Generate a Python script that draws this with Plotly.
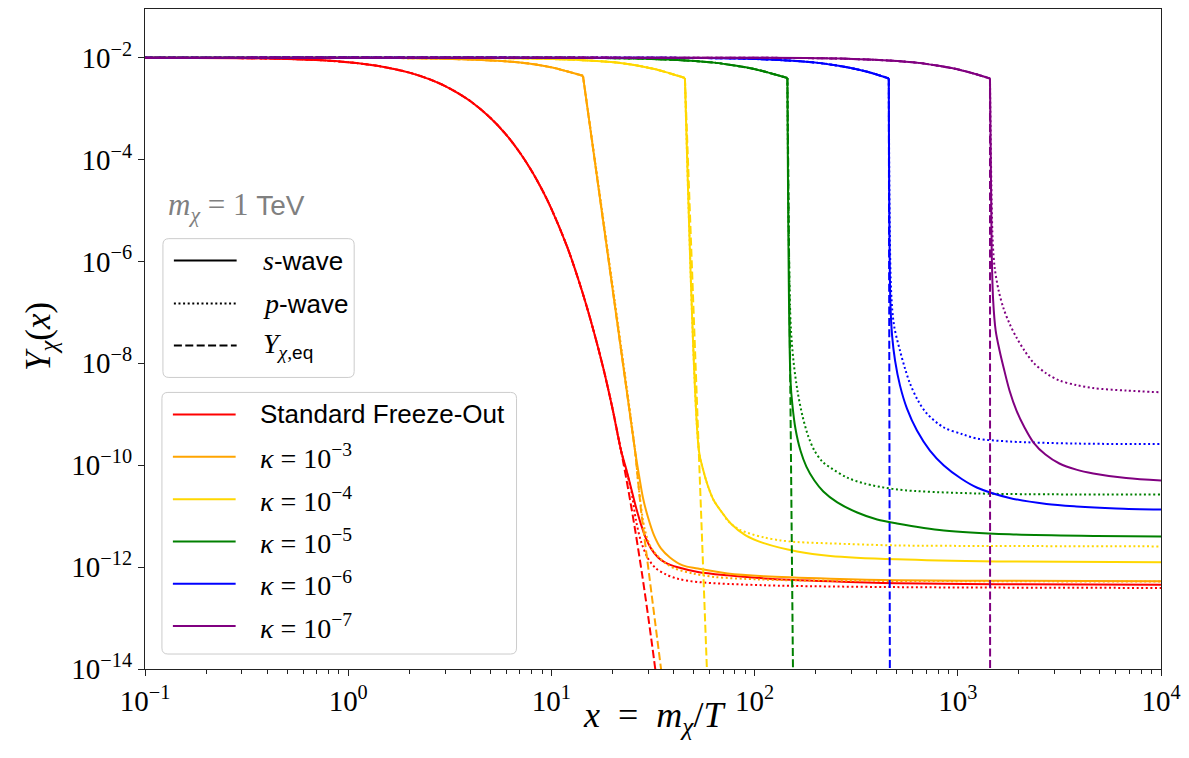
import plotly.graph_objects as go

# ------------------------------------------------------------------
# Abundance Y_chi(x) for a 1 TeV particle, x = m_chi / T
# ------------------------------------------------------------------

# Standard freeze-out: part shared by all three curves (tracks equilibrium)
std_common_x = [0.1, 0.3, 0.5, 0.75, 1, 1.25, 1.5, 2, 2.5, 3, 3.5, 4, 5, 6, 7, 8, 9, 10, 12,
                14, 16, 18, 20, 22]
std_common_y = [9.98e-3, 9.78e-3, 9.44e-3, 8.85e-3, 8.12e-3, 7.35e-3, 6.57e-3, 5.08e-3,
                3.8e-3, 2.77e-3, 1.97e-3, 1.39e-3, 6.64e-4, 3.05e-4, 1.36e-4, 5.93e-5,
                2.55e-5, 1.08e-5, 1.86e-6, 3.0e-7, 4.9e-8, 8.07e-9, 1.27e-9, 1.96e-10]
std_eq_x = [24, 26, 28, 30, 32, 33]
std_eq_y = [3.00e-11, 4.56e-12, 6.86e-13, 1.02e-13, 1.52e-14, 5.85e-15]
std_s_x = [23.3, 24.7, 26.1, 27.6, 29.2, 30.9, 33.5, 36.2, 41.9, 52.6, 73.7, 112, 236, 502,
           1553, 10000]
std_s_y = [8.6e-11, 3.5e-11, 1.48e-11, 6.9e-12, 3.65e-12, 2.33e-12, 1.55e-12, 1.24e-12,
           9.9e-13, 8.05e-13, 6.9e-13, 6.0e-13, 5.25e-13, 4.8e-13, 4.6e-13, 4.5e-13]
std_p_x = [23.3, 24.7, 26.1, 27.6, 29.9, 32.7, 36.6, 41.9, 52.6, 112, 502, 10000]
std_p_y = [8.2e-11, 3.2e-11, 8.2e-12, 3.2e-12, 1.48e-12, 9.4e-13, 7.2e-13, 5.9e-13, 5.1e-13,
           4.4e-13, 4.05e-13, 3.9e-13]

# kappa = 1e-3
k3_plateau_x = [0.1, 0.90, 1.80, 2.85, 4.52, 6.39, 8.04, 10.1, 11.9, 14.3]
k3_plateau_y = [1.0e-2, 9.95e-3, 9.8e-3, 9.55e-3, 9.0e-3, 8.3e-3, 7.5e-3, 6.4e-3, 5.4e-3, 4.4e-3]
k3_s_x = [25.8, 27.0, 28.2, 29.9, 32.0, 34.6, 38.3, 44.3, 52.6, 73.7, 112, 236, 502, 1553, 10000]
k3_s_y = [1.94e-10, 6.3e-11, 2.33e-11, 9.4e-12, 4.2e-12, 2.33e-12, 1.55e-12, 1.08e-12, 9.4e-13,
          7.5e-13, 6.6e-13, 5.9e-13, 5.5e-13, 5.4e-13, 5.25e-13]
k3_p_x = [25.8, 27.0, 28.8, 30.9, 33.5, 36.6, 40.5, 49.7, 63.7, 103, 162, 502, 10000]
k3_p_y = [1.94e-10, 3.2e-11, 5.5e-12, 2.43e-12, 1.62e-12, 1.18e-12, 9.4e-13, 7.5e-13, 6.4e-13,
          5.75e-13, 5.5e-13, 5.35e-13, 5.2e-13]
k3_eq_x = [25.8, 27.6, 34.6, 36.2]
k3_eq_y = [1.94e-10, 1.3e-11, 9.4e-15, 2.5e-15]

# kappa = 1e-4
k4_plateau_x = [0.1, 2.86, 5.72, 9.06, 14.3, 20.3, 25.5, 32.1, 37.8, 45.4]
k4_plateau_y = [1.0e-2, 9.95e-3, 9.8e-3, 9.5e-3, 8.9e-3, 8.1e-3, 7.2e-3, 6.0e-3, 5.0e-3, 4.0e-3]
k4_s_x = [53.2, 55.6, 58.8, 63.0, 69.7, 76.3, 90.3, 112, 162, 236, 502, 1553, 10000]
k4_s_y = [1.94e-10, 8.6e-11, 4.0e-11, 2.03e-11, 1.13e-11, 7.2e-12, 4.2e-12, 2.92e-12, 2.03e-12,
          1.66e-12, 1.42e-12, 1.29e-12, 1.24e-12]
k4_p_x = [53.2, 55.6, 58.8, 63.0, 69.7, 73.7, 82.5, 92.4, 112, 134, 162, 236, 502, 1553, 10000]
k4_p_y = [1.94e-10, 8.6e-11, 4.0e-11, 2.03e-11, 1.13e-11, 8.2e-12, 5.7e-12, 4.7e-12, 3.8e-12,
          3.34e-12, 3.1e-12, 2.92e-12, 2.66e-12, 2.6e-12, 2.55e-12]
k4_eq_x = [53.2, 58.3, 59.5]
k4_eq_y = [1.94e-10, 1.1e-14, 1.0e-15]

# kappa = 1e-5
k5_plateau_x = [0.1, 9.15, 18.3, 28.9, 45.8, 64.8, 81.5, 103, 121, 145]
k5_plateau_y = [1.0e-2, 9.95e-3, 9.8e-3, 9.5e-3, 8.8e-3, 7.9e-3, 6.9e-3, 5.8e-3, 4.9e-3, 4.0e-3]
k5_s_x = [150.2, 153.6, 158.9, 168.1, 179.8, 196.9, 217.9, 255.3, 319.8, 400.9, 502, 853.9,
          1798, 4802, 10000]
k5_s_y = [4.6e-9, 1.48e-9, 5.2e-10, 1.94e-10, 9.4e-11, 5.0e-11, 3.05e-11, 1.86e-11, 1.18e-11,
          8.6e-12, 7.2e-12, 5.25e-12, 4.4e-12, 4.1e-12, 4.0e-12]
k5_p_x = [150.2, 155.3, 162.5, 171.9, 183.9, 196.9, 215.4, 235.8, 285.7, 346.1, 502, 1239, 10000]
k5_p_y = [6.9e-8, 1.13e-8, 2.9e-9, 9.4e-10, 3.65e-10, 1.94e-10, 1.18e-10, 9.0e-11, 5.7e-11,
          4.4e-11, 3.34e-11, 2.79e-11, 2.67e-11]
k5_eq_x = [150.7, 154.8, 155.3]
k5_eq_y = [1.94e-10, 1.0e-14, 1.0e-15]

# kappa = 1e-6
k6_plateau_x = [0.1, 29.1, 58.1, 92.0, 146, 206, 259, 326, 384, 457.5]
k6_plateau_y = [1.0e-2, 9.95e-3, 9.8e-3, 9.5e-3, 8.8e-3, 7.9e-3, 6.9e-3, 5.8e-3, 4.9e-3, 3.9e-3]
k6_s_x = [465.6, 474.9, 491.2, 519.6, 562.3, 629.5, 729.1, 853.9, 1045.7, 1239, 1798, 2731,
          3831, 6017, 10000]
k6_s_y = [1.7e-7, 3.5e-8, 1.13e-8, 3.65e-9, 1.29e-9, 4.8e-10, 1.94e-10, 9.9e-11, 5.36e-11,
          3.66e-11, 2.28e-11, 1.73e-11, 1.55e-11, 1.42e-11, 1.35e-11]
k6_p_x = [469.6, 485.7, 519.6, 549.8, 581.9, 636.7, 704.7, 853.9, 1045.7, 1239, 1798, 3831, 10000]
k6_p_y = [2.66e-7, 5.5e-8, 1.77e-8, 7.9e-9, 4.0e-9, 1.86e-9, 1.03e-9, 5.5e-10, 4.1e-10, 3.34e-10,
          2.92e-10, 2.66e-10, 2.6e-10]
k6_eq_x = [463, 463.5]
k6_eq_y = [1.0e-14, 1.0e-15]

# kappa = 1e-7
k7_plateau_x = [0.1, 90.6, 181, 286, 453, 641, 806, 1016, 1194, 1440]
k7_plateau_y = [1.0e-2, 9.95e-3, 9.8e-3, 9.5e-3, 8.8e-3, 7.9e-3, 6.9e-3, 5.8e-3, 4.9e-3, 3.9e-3]
k7_s_x = [1468, 1493, 1536, 1606, 1681, 1798, 1945, 2130, 2358, 2700, 3162, 3831, 4642, 6736,
          10000]
k7_s_y = [1.62e-6, 1.7e-7, 4.4e-8, 1.77e-8, 8.2e-9, 2.9e-9, 1.18e-9, 5.5e-10, 2.79e-10,
          1.62e-10, 1.08e-10, 8.2e-11, 6.9e-11, 5.6e-11, 5.0e-11]
k7_p_x = [1485, 1519, 1589, 1681, 1798, 1945, 2130, 2358, 2731, 3162, 3831, 4642, 6736, 10000]
k7_p_y = [2.55e-6, 7.5e-7, 2.66e-7, 1.18e-7, 6.0e-8, 3.2e-8, 1.77e-8, 1.03e-8, 6.3e-9, 4.6e-9,
          3.74e-9, 3.27e-9, 2.92e-9, 2.7e-9]
k7_eq_x = [1441, 1442]
k7_eq_y = [1.0e-14, 1.0e-15]

series_labels = ["Standard Freeze-Out", "κ = 10⁻³", "κ = 10⁻⁴", "κ = 10⁻⁵", "κ = 10⁻⁶", "κ = 10⁻⁷"]
series_colors = ["#ff0000", "#ffa500", "#ffd700", "#008000", "#0000ff", "#800080"]
kappa_exponents = ["3", "4", "5", "6", "7"]

y_tick_vals = [1e-14, 1e-12, 1e-10, 1e-8, 1e-6, 1e-4, 1e-2]
y_tick_text = ["10<sup>−14</sup>", "10<sup>−12</sup>", "10<sup>−10</sup>", "10<sup>−8</sup>",
               "10<sup>−6</sup>", "10<sup>−4</sup>", "10<sup>−2</sup>"]
x_tick_vals = [1e-1, 1e0, 1e1, 1e2, 1e3, 1e4]
x_tick_text = ["10<sup>−1</sup>", "10<sup>0</sup>", "10<sup>1</sup>", "10<sup>2</sup>",
               "10<sup>3</sup>", "10<sup>4</sup>"]

# ------------------------------------------------------------------
SOLID = "solid"
DOTTED = "2px,2.6px"
DASHED = "8px,3.4px"
LW = 2.0
SERIF = "Liberation Serif"
SANS = "Liberation Sans"

fig = go.Figure()


def add_line(xs, ys, color, dash, name, shape="spline"):
    fig.add_trace(go.Scatter(x=xs, y=ys, mode="lines", name=name, showlegend=False,
                             line=dict(color=color, width=LW, dash=dash, shape=shape,
                                       smoothing=0.9),
                             hoverinfo="x+y+name"))


# standard freeze-out
c = series_colors[0]
add_line(std_common_x + std_s_x, std_common_y + std_s_y, c, SOLID, series_labels[0] + " (s-wave)")
add_line(std_common_x + std_p_x, std_common_y + std_p_y, c, DOTTED, series_labels[0] + " (p-wave)")
add_line(std_common_x + std_eq_x, std_common_y + std_eq_y, c, DASHED, series_labels[0] + " (eq)")

kappa_sets = [
    (k3_plateau_x, k3_plateau_y, k3_s_x, k3_s_y, k3_p_x, k3_p_y, k3_eq_x, k3_eq_y),
    (k4_plateau_x, k4_plateau_y, k4_s_x, k4_s_y, k4_p_x, k4_p_y, k4_eq_x, k4_eq_y),
    (k5_plateau_x, k5_plateau_y, k5_s_x, k5_s_y, k5_p_x, k5_p_y, k5_eq_x, k5_eq_y),
    (k6_plateau_x, k6_plateau_y, k6_s_x, k6_s_y, k6_p_x, k6_p_y, k6_eq_x, k6_eq_y),
    (k7_plateau_x, k7_plateau_y, k7_s_x, k7_s_y, k7_p_x, k7_p_y, k7_eq_x, k7_eq_y),
]
for i, (plx, ply, sx, sy, ppx, ppy, ex, ey) in enumerate(kappa_sets):
    c = series_colors[i + 1]
    nm = series_labels[i + 1]
    corner_x, corner_y = plx[-1], ply[-1]
    for dash, tx, ty, tag in ((SOLID, sx, sy, "s-wave"), (DOTTED, ppx, ppy, "p-wave")):
        # smooth plateau up to the drop, then the drop and the frozen-out tail
        add_line(plx, ply, c, dash, f"{nm} ({tag})")
        add_line([corner_x] + tx, [corner_y] + ty, c, dash, f"{nm} ({tag})")
    add_line(plx, ply, c, DASHED, nm + " (eq)")
    add_line([corner_x] + ex, [corner_y] + ey, c, DASHED, nm + " (eq)", shape="linear")

# ------------------------------------------------------------------
# layout geometry (pixels of the 1189 x 758 canvas)
W, H = 1189, 758
L, R, T, B = 145, 1165, 8, 669


def px(x):
    return (x - L) / (R - L)


def py(y):
    return (B - y) / (B - T)


def rounded_box(x0, y0, x1, y1, r=6):
    a, b, cc, d = px(x0), py(y0), px(x1), py(y1)
    rx, ry = r / (R - L), r / (B - T)
    return (f"M {a + rx},{b} L {cc - rx},{b} Q {cc},{b} {cc},{b - ry} "
            f"L {cc},{d + ry} Q {cc},{d} {cc - rx},{d} L {a + rx},{d} "
            f"Q {a},{d} {a},{d + ry} L {a},{b - ry} Q {a},{b} {a + rx},{b} Z")


shapes = []
annotations = []


def legend_box(x0, y0, x1, y1):
    shapes.append(dict(type="path", xref="paper", yref="paper", path=rounded_box(x0, y0, x1, y1),
                       line=dict(color="#cccccc", width=1), fillcolor="rgba(255,255,255,0.8)",
                       layer="above"))


def legend_entry(y, color, dash, text, x_line=(174, 237), x_text=261):
    shapes.append(dict(type="line", xref="paper", yref="paper",
                       x0=px(x_line[0]), x1=px(x_line[1]), y0=py(y), y1=py(y),
                       line=dict(color=color, width=LW, dash=dash), layer="above"))
    annotations.append(dict(xref="paper", yref="paper", x=px(x_text), y=py(y),
                            xanchor="left", yanchor="middle", showarrow=False, text=text,
                            font=dict(family=SERIF, size=28, color="black")))


def sans(s, size=26):
    return f'<span style="font-family:{SANS};font-size:{size}px">{s}</span>'


# line-style legend
legend_box(163, 238, 355, 377)
legend_entry(260, "black", SOLID, "<i>s</i>" + sans("-wave"))
legend_entry(303, "black", DOTTED, "<i>p</i>" + sans("-wave"))
legend_entry(345, "black", DASHED, "<i>Y</i><sub><i>χ</i>," + sans("eq", 19) + "</sub>")

# series legend
legend_box(162, 392, 518, 654)
ys = [414, 456.5, 499, 541.3, 583.7, 626]
legend_entry(ys[0], series_colors[0], SOLID, sans(series_labels[0]), x_line=(173, 236), x_text=258)
for k, e in enumerate(kappa_exponents):
    legend_entry(ys[k + 1], series_colors[k + 1], SOLID,
                 f"<i>κ</i>&nbsp;=&nbsp;10<sup>−{e}</sup>", x_line=(173, 236), x_text=258)

# mass label
annotations.append(dict(xref="paper", yref="paper", x=px(166), y=py(206), xanchor="left",
                        yanchor="middle", showarrow=False,
                        text="<i>m</i><sub><i>χ</i></sub>&nbsp;=&nbsp;1&nbsp;" + sans("TeV", 28),
                        font=dict(family=SERIF, size=31, color="#808080")))

# axis titles
annotations.append(dict(xref="paper", yref="paper", x=px(657), y=py(718), xanchor="center",
                        yanchor="middle", showarrow=False,
                        text="<i>x</i>&nbsp;&nbsp;=&nbsp;&nbsp;<i>m</i><sub><i>χ</i></sub>/<i>T</i>",
                        font=dict(family=SERIF, size=36, color="black")))
annotations.append(dict(xref="paper", yref="paper", x=px(40), y=py(336), xanchor="center",
                        yanchor="middle", showarrow=False, textangle=-90,
                        text="<i>Y</i><sub><i>χ</i></sub>(<i>x</i>)",
                        font=dict(family=SERIF, size=35, color="black")))

x_minor = [m * 10 ** d for d in range(-1, 4) for m in range(2, 10)]

fig.update_layout(
    width=W, height=H, autosize=False,
    margin=dict(l=L, r=W - R, t=T, b=H - B, pad=0),
    paper_bgcolor="white", plot_bgcolor="white",
    showlegend=False,
    shapes=shapes, annotations=annotations,
    xaxis=dict(type="log", range=[-1, 4], showgrid=False, zeroline=False,
               showline=True, linecolor="#222222", linewidth=1.3, mirror=True,
               ticks="outside", ticklen=6, tickwidth=1.2, tickcolor="#222222",
               tickvals=x_tick_vals, ticktext=x_tick_text,
               tickfont=dict(family=SERIF, size=29, color="black"),
               minor=dict(ticks="outside", ticklen=3.5, tickwidth=1, tickcolor="#222222",
                          tickvals=x_minor, showgrid=False)),
    yaxis=dict(type="log", range=[-14, -1.045], showgrid=False, zeroline=False,
               showline=True, linecolor="#222222", linewidth=1.3, mirror=True,
               ticks="outside", ticklen=6, tickwidth=1.2, tickcolor="#222222",
               tickvals=y_tick_vals, ticktext=y_tick_text,
               tickfont=dict(family=SERIF, size=29, color="black")),
)

fig.write_html("out.html")
